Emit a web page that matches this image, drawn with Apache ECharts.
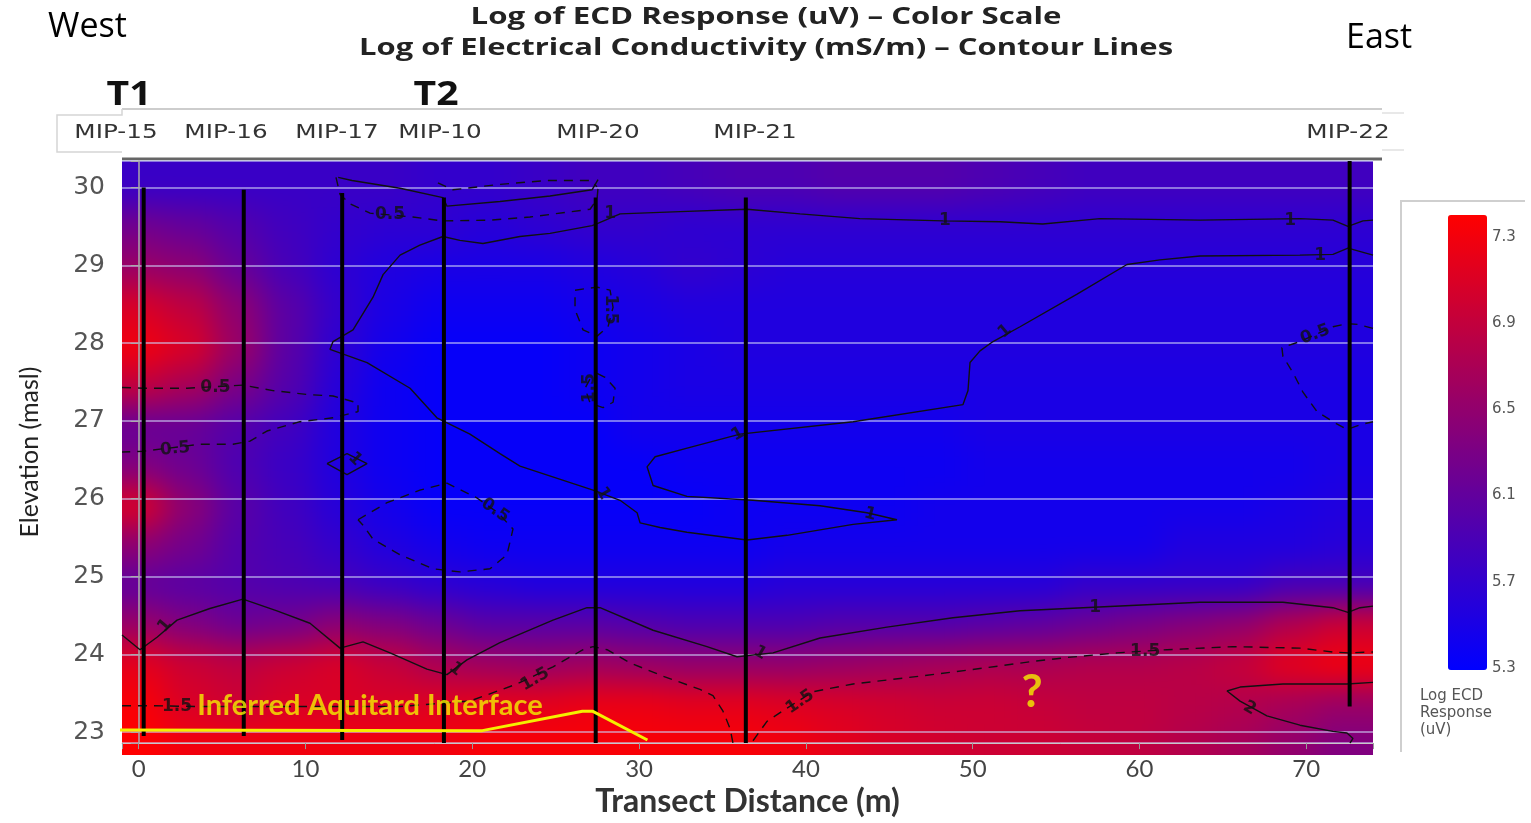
<!DOCTYPE html>
<html>
<head>
<meta charset="utf-8">
<script src="https://cdn.jsdelivr.net/npm/echarts@6/dist/echarts.min.js"></script>
<style>
html,body{margin:0;padding:0;background:#fff;}
#heatWrap{position:absolute;left:122px;top:161px;width:1251px;height:594px;overflow:hidden;}
#heat{position:absolute;left:-122px;top:-161px;width:1531px;height:823px;filter:blur(15px);}
#main{position:absolute;left:0;top:0;width:1531px;height:823px;}
</style>
</head>
<body>
<div id="heatWrap"><div id="heat"></div></div>
<div id="main"></div>
<script>
var gridX = [0,3,6,9,12,15,18,21,24,27,30,33,36,39,42,45,48,51,54,57,60,63,66,69,72];
var gridY = [30,29.5,29,28.5,28,27.5,27,26.5,26,25.5,25,24.5,24,23.5,23];
var ecd = [
 [5.75,5.75,5.75,5.75,5.75,5.75,5.7,5.7,5.75,5.8,5.8,5.85,5.9,5.9,5.95,5.95,5.95,5.9,5.85,5.8,5.8,5.8,5.8,5.8,5.8],
 [6.2,6.1,5.95,5.8,5.7,5.65,5.65,5.6,5.65,5.7,5.7,5.65,5.65,5.65,5.65,5.65,5.65,5.65,5.65,5.65,5.65,5.65,5.65,5.65,5.65],
 [6.5,6.4,6.1,5.85,5.65,5.55,5.5,5.5,5.5,5.55,5.6,5.7,5.65,5.6,5.6,5.6,5.6,5.6,5.6,5.6,5.6,5.6,5.6,5.6,5.6],
 [7.0,6.8,6.4,6.0,5.7,5.5,5.4,5.4,5.4,5.45,5.5,5.55,5.55,5.55,5.55,5.55,5.55,5.55,5.55,5.55,5.55,5.55,5.55,5.55,5.55],
 [7.2,7.0,6.5,6.0,5.65,5.45,5.35,5.35,5.35,5.4,5.45,5.5,5.55,5.55,5.55,5.55,5.55,5.55,5.55,5.55,5.55,5.55,5.55,5.55,5.55],
 [6.8,6.6,6.25,5.95,5.6,5.4,5.35,5.35,5.35,5.4,5.45,5.5,5.5,5.5,5.5,5.5,5.5,5.5,5.5,5.5,5.5,5.5,5.5,5.5,5.5],
 [6.1,6.1,5.95,5.8,5.55,5.4,5.35,5.35,5.35,5.35,5.45,5.45,5.45,5.45,5.45,5.45,5.45,5.5,5.5,5.5,5.5,5.5,5.5,5.5,5.5],
 [6.3,6.15,5.9,5.75,5.55,5.4,5.35,5.35,5.35,5.35,5.35,5.4,5.4,5.4,5.4,5.4,5.4,5.45,5.45,5.45,5.45,5.45,5.45,5.45,5.5],
 [7.0,6.4,6.0,5.8,5.6,5.45,5.35,5.35,5.35,5.35,5.35,5.35,5.4,5.4,5.4,5.4,5.45,5.45,5.45,5.45,5.45,5.45,5.45,5.5,5.55],
 [6.4,6.2,5.95,5.85,5.7,5.55,5.45,5.4,5.4,5.4,5.4,5.4,5.4,5.45,5.45,5.45,5.45,5.45,5.45,5.45,5.45,5.55,5.55,5.55,5.6],
 [6.05,6.0,5.95,5.9,5.85,5.75,5.65,5.6,5.55,5.55,5.55,5.55,5.55,5.6,5.6,5.6,5.6,5.6,5.6,5.7,5.7,5.7,5.7,5.85,5.85],
 [6.5,6.3,6.15,6.2,6.4,6.3,6.15,6.0,6.0,6.0,5.95,5.9,5.9,5.9,5.95,5.95,5.95,6.0,6.05,6.15,6.25,6.35,6.45,6.7,6.9],
 [7.1,6.9,6.8,6.9,7.0,6.85,6.65,6.55,6.5,6.55,6.5,6.45,6.45,6.45,6.5,6.55,6.6,6.65,6.65,6.7,6.7,6.75,6.85,7.1,7.2],
 [7.25,7.0,6.9,7.0,7.0,7.0,7.05,7.1,7.1,7.15,7.15,7.1,7.1,7.05,7.0,6.95,6.9,6.9,6.85,6.8,6.8,6.75,6.7,6.6,6.5],
 [7.3,7.2,7.2,7.2,7.2,7.2,7.2,7.25,7.25,7.25,7.25,7.25,7.25,7.2,7.1,7.0,6.95,6.9,6.9,6.85,6.8,6.7,6.6,6.45,6.3]
];
var colorTicks = [5.3,5.7,6.1,6.5,6.9,7.3];

// MIP profile lines
var mipNames = ['MIP-15','MIP-16','MIP-17','MIP-10','MIP-20','MIP-21','MIP-22'];
var mipX = [0.3,6.3,12.2,18.3,27.4,36.4,72.6];
var mipTop = [30.0,29.97,29.93,29.87,29.87,29.87,30.34];
var mipBottom = [22.95,22.95,22.9,22.86,22.86,22.86,23.33];

// contour lines of log EC (x m, elevation masl)
var c1Main = [[74,29.58],[73.4,29.57],[72.5,29.5],[71.6,29.58],[69.62,29.6],[63.63,29.58],[57.64,29.6],[54.2,29.53],[51.64,29.56],[48.22,29.57],[43.24,29.6],[39.65,29.66],[36.47,29.72],[32.46,29.69],[28.86,29.66],[27.42,29.53],[27.18,29.51],[24.66,29.41],[22.86,29.37],[20.64,29.28],[19.26,29.32],[18.24,29.37],[16.86,29.26],[15.67,29.13],[14.65,28.88],[14.05,28.59],[12.85,28.17],[11.65,28.02],[11.47,27.92],[13.69,27.75],[16.27,27.42],[17.88,27.04],[19.86,26.83],[21.66,26.58],[22.86,26.42],[27.24,26.11],[28.86,25.98],[29.88,25.82],[30.06,25.69],[31.26,25.63],[32.87,25.57],[36.47,25.47],[38.87,25.53],[42.83,25.67],[45.46,25.73],[43.66,25.82],[40.85,25.91],[36.83,25.98],[32.87,26.03],[30.84,26.17],[30.48,26.41],[30.96,26.54],[33.05,26.66],[36.05,26.83],[42.83,26.99],[49.42,27.21],[49.72,27.39],[49.84,27.75],[50.44,27.9],[51.22,28.02],[52.84,28.21],[56.26,28.63],[59.25,29.01],[61.23,29.07],[63.63,29.12],[69.62,29.13],[71.6,29.14],[72.5,29.22],[74,29.13]];
var c1Top = [[11.96,30.13],[12.79,30.09],[15.67,29.99],[18.24,29.87],[18.48,29.76],[21.66,29.82],[24.66,29.89],[27.18,29.97],[27.54,30.1]];
var c1Diamond = [[11.29,26.45],[12.49,26.58],[13.69,26.45],[12.49,26.31],[11.29,26.45]];
var c1Bottom = [[-1,24.25],[0.08,24.06],[1.1,24.22],[2.3,24.44],[4.27,24.59],[6.25,24.71],[8.29,24.56],[10.27,24.4],[12.07,24.08],[13.45,24.16],[15.07,24.02],[17.28,23.81],[18.48,23.74],[19.68,23.93],[21.66,24.15],[24.84,24.44],[26.88,24.6],[27.66,24.6],[30.84,24.31],[34.07,24.1],[35.87,23.97],[38.03,24.02],[40.85,24.21],[44.86,24.35],[48.82,24.47],[52.84,24.56],[56.62,24.6],[63.63,24.67],[68.6,24.67],[71.6,24.6],[72.5,24.54],[73.22,24.6],[74,24.62]];
var c05Top = [[11.83,30.13],[12.07,29.91],[12.67,29.79],[13.87,29.67],[16.44,29.62],[18.24,29.57],[21.06,29.58],[23.46,29.62],[27.06,29.72],[27.48,29.85],[27.54,30.0]];
var c05TopB = [[17.94,30.06],[18.84,29.97],[21.66,30.04],[24.48,30.09],[27.06,30.09],[27.48,30.01]];
var c05Left = [[-1,27.43],[0.26,27.42],[2.9,27.42],[6.25,27.46],[8.05,27.39],[10.09,27.34],[11.65,27.32],[13.15,27.23],[13.15,27.12],[11.65,27.04],[9.67,26.99],[7.69,26.87],[6.67,26.74],[5.65,26.7],[3.67,26.7],[0.26,26.61],[-1,26.6]];
var c05Loop = [[13.15,25.73],[14.89,25.95],[16.86,26.11],[18.48,26.2],[20.28,26.01],[21.54,25.82],[22.44,25.61],[22.08,25.28],[21.06,25.1],[19.26,25.06],[17.64,25.1],[15.67,25.28],[14.05,25.48],[13.45,25.66],[13.15,25.73]];
var c05Right = [[74,28.19],[73.1,28.24],[72.44,28.25],[71.6,28.21],[69.62,28.02],[68.54,27.94],[68.6,27.83],[69.2,27.62],[69.8,27.37],[70.64,27.12],[71.6,26.99],[72.44,26.89],[73.22,26.95],[74,26.99]];
var c15LoopA = [[26.16,28.68],[27.48,28.72],[28.26,28.68],[28.44,28.46],[28.14,28.21],[27.48,28.09],[26.64,28.17],[26.16,28.43],[26.16,28.68]];
var c15LoopB = [[27.48,27.61],[27.96,27.56],[28.56,27.42],[28.44,27.24],[27.84,27.17],[27.06,27.23],[26.76,27.42],[27.06,27.54],[27.48,27.61]];
var c15Left = [[-1,23.34],[0.86,23.34],[3.67,23.33],[9.67,23.33],[15.67,23.33],[19.86,23.4],[22.68,23.62],[24.84,23.84],[26.64,24.06],[27.24,24.1],[28.08,24.06],[29.46,23.89],[31.44,23.72],[33.65,23.55],[34.43,23.47],[35.03,23.27],[35.45,23.05],[35.63,22.86]];
var c15Right = [[36.83,22.89],[37.67,23.14],[38.87,23.31],[40.43,23.52],[42.83,23.62],[46.84,23.72],[50.86,23.83],[53.62,23.91],[55.66,23.96],[58.66,24.02],[61.65,24.06],[65.61,24.1],[69.62,24.08],[71.6,24.03],[72.5,24.02],[74,24.03]];
var c2 = [[74,23.64],[72.44,23.62],[68.6,23.62],[66.03,23.58],[65.25,23.53],[66.03,23.4],[67.64,23.21],[69.62,23.09],[71.6,23.01],[72.44,22.99],[72.8,22.92],[72.62,22.86]];
var contourLevels = [1,1,1,1,0.5,0.5,0.5,0.5,0.5,1.5,1.5,1.5,1.5,2];
var contourLines = [c1Main,c1Top,c1Diamond,c1Bottom,c05Top,c05TopB,c05Left,c05Loop,c05Right,c15LoopA,c15LoopB,c15Left,c15Right,c2];

// contour labels: x, elevation, text, rotation
var contourLabels = [
 [28.26,29.66,'1',0],[48.34,29.57,'1',0],[69.03,29.57,'1',0],[70.83,29.12,'1',0],
 [51.94,28.15,'1',40],[35.93,26.83,'1',30],[27.84,26.07,'1',-60],[43.85,25.8,'1',-15],[12.97,26.51,'1',-45],
 [15.07,29.65,'0.5',0],[4.6,27.43,'0.5',0],[2.18,26.64,'0.5',5],[21.37,25.85,'0.5',-35],[70.53,28.11,'0.5',20],
 [28.3,28.43,'1.5',-90],[27.06,27.42,'1.5',90],
 [1.58,24.37,'1',50],[19.0,23.81,'1',-40],[37.25,24.02,'1',-30],[57.34,24.6,'1',0],
 [2.3,23.33,'1.5',0],[23.76,23.68,'1.5',30],[39.65,23.39,'1.5',35],[60.34,24.04,'1.5',0],[66.6,23.31,'2',-30]
];

// inferred aquitard interface
var aquitard = [[-2.0,23.03],[20.6,23.02],[26.6,23.27],[27.2,23.27],[30.5,22.9]];
var notes = [[13.87,23.34,'Inferred Aquitard Interface',29],[53.56,23.52,'?',46]];

var heatData = [];
gridY.forEach(function (y, i) {
	gridX.forEach(function (x, j) {
		heatData.push([x, y, ecd[i][j]]);
	});
});

var gridBox = {left:122, top:161, width:1251, height:594};
var xMin = -1, xMax = 74, yMin = 22.86, yMax = 30.34;

// colour field (blurred underneath)
var heatChart = echarts.init(document.getElementById('heat'));
heatChart.setOption({
	animation:false,
	grid:gridBox,
	xAxis:{type:'value', min:xMin, max:xMax, show:false},
	yAxis:{type:'value', min:yMin, max:yMax, show:false},
	visualMap:{show:false, dimension:2, min:5.3, max:7.3, seriesIndex:0, inRange:{color:['#0000ff','#ff0000']}},
	series:[{
		type:'custom',
		data:heatData,
		renderItem:function (params, api) {
			var x = api.value(0), y = api.value(1);
			var x0 = x === gridX[0] ? -12 : x - 1.5;
			var x1 = x === gridX[gridX.length - 1] ? 86 : x + 1.5;
			var y1 = y === gridY[0] ? 33 : y + 0.25;
			var y0 = y === gridY[gridY.length - 1] ? 20 : y - 0.25;
			var p0 = api.coord([x0, y1]);
			var p1 = api.coord([x1, y0]);
			return {type:'rect', shape:{x:p0[0], y:p0[1], width:p1[0] - p0[0] + 1, height:p1[1] - p0[1] + 1}, style:{fill:api.visual('color')}};
		}
	}]
});

// everything else
var series = [];
mipX.forEach(function (x, i) {
	series.push({type:'line', data:[[x, mipTop[i]], [x, mipBottom[i]]], symbol:'none', silent:true, z:4,
		lineStyle:{color:'#000', width:4}});
});
contourLines.forEach(function (pts, i) {
	var lv = contourLevels[i];
	series.push({type:'line', data:pts, symbol:'none', silent:true, z:3,
		lineStyle:{color:'#111', width:1.4, type:(lv === 1 || lv === 2) ? 'solid' : [9, 7]}});
});
series.push({type:'line', data:aquitard, symbol:'none', silent:true, clip:false, z:5,
	lineStyle:{color:'#f4f000', width:3}});
series.push({type:'scatter', symbolSize:1, silent:true, z:6, itemStyle:{color:'transparent'},
	data:contourLabels.map(function (d) {
		return {value:[d[0], d[1], d[2]], label:{rotate:d[3]}};
	}),
	label:{show:true, position:'inside', color:'#111', fontSize:17, fontWeight:'bold', fontFamily:'DejaVu Sans',
		formatter:function (p) { return p.value[2]; }}
});
series.push({type:'scatter', symbolSize:1, silent:true, z:7, itemStyle:{color:'transparent'},
	data:notes.map(function (d) {
		return {value:[d[0], d[1], d[2]], label:{fontSize:d[3]}};
	}),
	label:{show:true, position:'inside', color:'#f4f000', fontWeight:'bold', fontFamily:'Lato',
		formatter:function (p) { return p.value[2]; }}
});

var mipLabelX = [116,226,337,440,598,755,1348];
var graphic = [
	{type:'text', x:48, y:27, style:{text:'West', fontSize:34, fontFamily:'Open Sans', fill:'#000', verticalAlign:'middle'}},
	{type:'text', x:1346, y:38, style:{text:'East', fontSize:34, fontFamily:'Open Sans', fill:'#000', verticalAlign:'middle'}},
	{type:'text', x:766, y:17, scaleX:1.3, style:{text:'Log of ECD Response (uV) \u2013 Color Scale', fontSize:24, fontWeight:'bold', fontFamily:'Open Sans', fill:'#222', align:'center', verticalAlign:'middle'}},
	{type:'text', x:766, y:48, scaleX:1.29, style:{text:'Log of Electrical Conductivity (mS/m) \u2013 Contour Lines', fontSize:24, fontWeight:'bold', fontFamily:'Open Sans', fill:'#222', align:'center', verticalAlign:'middle'}},
	{type:'text', x:129, y:95, scaleX:1.15, style:{text:'T1', fontSize:34, fontWeight:'bold', fontFamily:'Open Sans', fill:'#111', align:'center', verticalAlign:'middle'}},
	{type:'text', x:436, y:95, scaleX:1.15, style:{text:'T2', fontSize:34, fontWeight:'bold', fontFamily:'Open Sans', fill:'#111', align:'center', verticalAlign:'middle'}},
	{type:'line', shape:{x1:122, y1:109, x2:1382, y2:109}, style:{stroke:'#cdcdcd', lineWidth:2}},
	{type:'polyline', shape:{points:[[122,109],[122,115],[57,115],[57,152],[122,152]]}, style:{stroke:'#d5d5d5', lineWidth:1.5, fill:null}},
	{type:'polyline', shape:{points:[[1382,113],[1404,113]]}, style:{stroke:'#e0e0e0', lineWidth:1.5, fill:null}},
	{type:'polyline', shape:{points:[[1382,150],[1404,150]]}, style:{stroke:'#e0e0e0', lineWidth:1.5, fill:null}},
	{type:'line', shape:{x1:122, y1:159, x2:1382, y2:159}, style:{stroke:'#666', lineWidth:3}},
	{type:'polyline', shape:{points:[[1525,201],[1401,201],[1401,752]]}, style:{stroke:'#cfcfcf', lineWidth:2, fill:null}},
	{type:'text', x:1420, y:688, style:{text:'Log ECD\nResponse\n(uV)', fontSize:15, lineHeight:17, fontFamily:'DejaVu Sans', fill:'#555'}}
];
mipNames.forEach(function (n, i) {
	graphic.push({type:'text', x:mipLabelX[i], y:133, scaleX:1.3,
		style:{text:n, fontSize:19, fontFamily:'DejaVu Sans', fill:'#333', align:'center', verticalAlign:'middle'}});
});

var myChart = echarts.init(document.getElementById('main'));
myChart.setOption({
	animation:false,
	backgroundColor:'transparent',
	grid:[gridBox, {left:1448, top:237, width:39, height:431}],
	xAxis:[{
		type:'value', min:xMin, max:xMax, splitNumber:7,
		name:'Transect Distance (m)', nameLocation:'middle', nameGap:39,
		nameTextStyle:{fontSize:32, fontWeight:'bold', fontFamily:'Lato', color:'#333'},
		axisLine:{show:true, lineStyle:{color:'#c8c8c8'}},
		axisTick:{show:true, length:6, lineStyle:{color:'#999'}},
		axisLabel:{color:'#444', fontSize:24, fontFamily:'Lato', margin:14,
			formatter:function (v) { return v % 10 === 0 ? v : ''; }},
		splitLine:{show:false}
	}, {gridIndex:1, type:'value', show:false}],
	yAxis:[{
		type:'value', min:yMin, max:yMax, splitNumber:7,
		name:'Elevation (masl)', nameLocation:'middle', nameGap:80, nameRotate:90,
		nameTextStyle:{fontSize:25, fontFamily:'Lato', color:'#222'},
		axisLine:{show:true, lineStyle:{color:'#aaa', width:1.5}},
		axisTick:{show:true, length:8, lineStyle:{color:'#aaa'}},
		axisLabel:{color:'#555', fontSize:25, fontFamily:'DejaVu Sans', margin:17,
			formatter:function (v) { return Number.isInteger(v) ? v : ''; }},
		splitLine:{show:true, lineStyle:{color:'rgba(205,210,245,0.75)', width:1.5}}
	}, {
		gridIndex:1, type:'value', min:5.3, max:7.3, position:'right',
		axisLine:{show:false}, axisTick:{show:false}, splitLine:{show:false},
		axisLabel:{customValues:colorTicks, margin:5, color:'#555', fontSize:15, fontFamily:'DejaVu Sans',
			formatter:function (v) { return v.toFixed(1); }}
	}],
	visualMap:{
		type:'continuous', show:true, seriesIndex:[], min:5.3, max:7.3, calculable:false,
		left:1448, top:215, itemWidth:39, itemHeight:455, padding:0,
		inRange:{color:['#0000ff','#ff0000']}
	},
	graphic:graphic,
	series:series
});
</script>
</body>
</html>
